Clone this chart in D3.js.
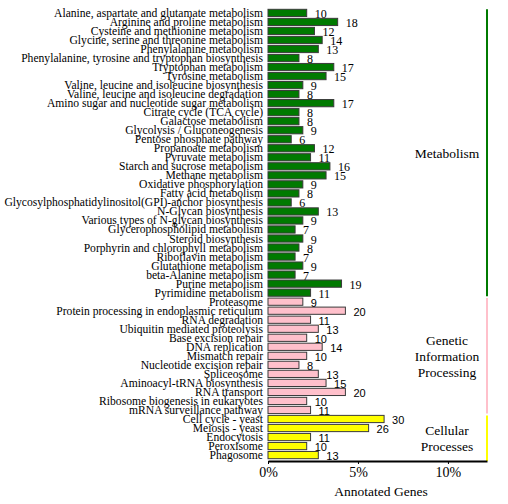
<!doctype html>
<html>
<head>
<script src="https://cdnjs.cloudflare.com/ajax/libs/d3/7.8.5/d3.min.js"></script>
<style>
body { margin: 0; background: #fff; }
.label { font-family: "Liberation Serif", "Times New Roman", serif; font-size: 11.6px; fill: #000; }
.val-serif { font-family: "Liberation Serif", serif; font-size: 12px; }
.val-sans { font-family: "Liberation Sans", Arial, sans-serif; font-size: 11px; }
.group-label { font-family: "Liberation Serif", serif; font-size: 13.5px; }
.axis text { font-family: "Liberation Serif", serif; font-size: 14px; fill: #000; }
.axis path, .axis line { stroke: #000; }
</style>
</head>
<body>
<svg id="chart" width="508" height="504"></svg>
<script>
// pathway names and gene counts per KEGG class
var metabolismNames = [
  "Alanine, aspartate and glutamate metabolism", "Arginine and proline metabolism",
  "Cysteine and methionine metabolism", "Glycine, serine and threonine metabolism",
  "Phenylalanine metabolism", "Phenylalanine, tyrosine and tryptophan biosynthesis",
  "Tryptophan metabolism", "Tyrosine metabolism",
  "Valine, leucine and isoleucine biosynthesis", "Valine, leucine and isoleucine degradation",
  "Amino sugar and nucleotide sugar metabolism", "Citrate cycle (TCA cycle)",
  "Galactose metabolism", "Glycolysis / Gluconeogenesis", "Pentose phosphate pathway",
  "Propanoate metabolism", "Pyruvate metabolism", "Starch and sucrose metabolism",
  "Methane metabolism", "Oxidative phosphorylation", "Fatty acid metabolism",
  "Glycosylphosphatidylinositol(GPI)-anchor biosynthesis", "N-Glycan biosynthesis",
  "Various types of N-glycan biosynthesis", "Glycerophospholipid metabolism",
  "Steroid biosynthesis", "Porphyrin and chlorophyll metabolism", "Riboflavin metabolism",
  "Glutathione metabolism", "beta-Alanine metabolism", "Purine metabolism",
  "Pyrimidine metabolism"];
var metabolismCounts = [10, 18, 12, 14, 13, 8, 17, 15, 9, 8, 17, 8, 8, 9, 6, 12, 11, 16, 15,
  9, 8, 6, 13, 9, 7, 9, 8, 7, 9, 7, 19, 11];

var geneticNames = [
  "Proteasome", "Protein processing in endoplasmic reticulum", "RNA degradation",
  "Ubiquitin mediated proteolysis", "Base excision repair", "DNA replication",
  "Mismatch repair", "Nucleotide excision repair", "Spliceosome",
  "Aminoacyl-tRNA biosynthesis", "RNA transport", "Ribosome biogenesis in eukaryotes",
  "mRNA surveillance pathway"];
var geneticCounts = [9, 20, 11, 13, 10, 14, 10, 8, 13, 15, 20, 10, 11];

var cellularNames = ["Cell cycle - yeast", "Meiosis - yeast", "Endocytosis", "Peroxisome", "Phagosome"];
var cellularCounts = [30, 26, 11, 10, 13];

var groupTitles = [["Metabolism"], ["Genetic", "Information", "Processing"], ["Cellular", "Processes"]];
var groupColors = ["#007a00", "#ffc0cb", "#ffff00"];
var valueClass = ["val-serif", "val-sans", "val-sans"];
var totalAnnotated = 465;
var tickValues = [0, 5, 10];

var groups = [[metabolismNames, metabolismCounts], [geneticNames, geneticCounts], [cellularNames, cellularCounts]];
var rows = [];
groups.forEach(function (g, gi) {
  g[0].forEach(function (name, i) {
    rows.push({name: name, count: g[1][i], group: gi});
  });
});

var svg = d3.select("#chart");
var axisY = 461;

var x = d3.scaleLinear().domain([0, 12.17]).range([268, 487]);
var y = d3.scaleBand().domain(rows.map(d => d.name)).range([7.5, 460.5]).padding(0.2);

function pct(d) { return d.count / totalAnnotated * 100; }

svg.append("g")
  .selectAll("rect")
  .data(rows)
  .enter()
  .append("rect")
  .attr("x", x(0))
  .attr("y", d => y(d.name))
  .attr("width", d => x(pct(d)) - x(0))
  .attr("height", y.bandwidth())
  .attr("fill", d => groupColors[d.group])
  .attr("stroke", "#3a3a3a")
  .attr("stroke-width", 1);

svg.append("g")
  .selectAll("text")
  .data(rows)
  .enter()
  .append("text")
  .attr("class", "label")
  .attr("x", 263)
  .attr("y", d => y(d.name) + y.bandwidth() / 2 + 4)
  .attr("text-anchor", "end")
  .text(d => d.name);

svg.append("g")
  .selectAll("text")
  .data(rows)
  .enter()
  .append("text")
  .attr("class", d => valueClass[d.group])
  .attr("x", d => x(pct(d)) + 8)
  .attr("y", d => y(d.name) + y.bandwidth() / 2 + 5)
  .text(d => d.count);

// class bars on the right and their titles
groups.forEach(function (g, gi) {
  var names = g[0];
  var top = y(names[0]);
  var bottom = gi === groups.length - 1 ? axisY : y(names[names.length - 1]) + y.bandwidth();
  svg.append("line")
    .attr("x1", x.range()[1]).attr("x2", x.range()[1])
    .attr("y1", top).attr("y2", bottom)
    .attr("stroke", groupColors[gi])
    .attr("stroke-width", 2);
  var mid = (top + bottom) / 2;
  var lines = groupTitles[gi];
  var t = svg.append("text")
    .attr("class", "group-label")
    .attr("text-anchor", "middle");
  lines.forEach(function (s, li) {
    t.append("tspan")
      .attr("x", 447)
      .attr("y", mid + 5 + (li - (lines.length - 1) / 2) * 16)
      .text(s);
  });
});

var axis = svg.append("g")
  .attr("class", "axis")
  .attr("transform", "translate(0," + axisY + ")")
  .call(d3.axisBottom(x).tickValues(tickValues).tickSize(3).tickSizeOuter(0).tickPadding(3)
    .tickFormat(d => d + "%"));
axis.select(".domain").attr("stroke-width", 2);

svg.append("text")
  .attr("class", "group-label")
  .attr("x", 381)
  .attr("y", 496)
  .attr("text-anchor", "middle")
  .text("Annotated Genes");
</script>
</body>
</html>
